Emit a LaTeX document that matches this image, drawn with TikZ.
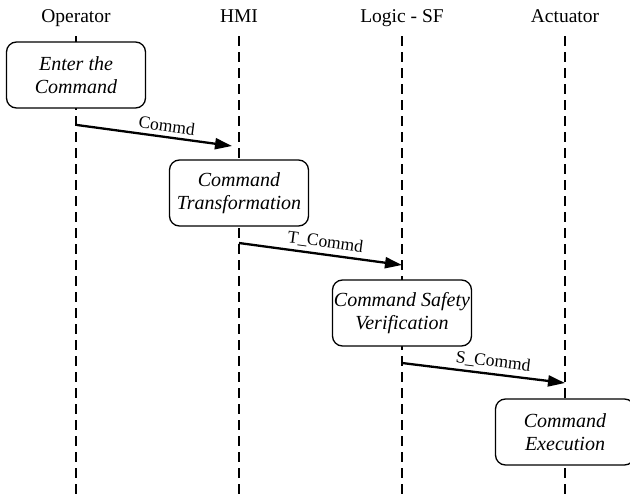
\documentclass[tikz,border=0pt]{standalone}
\usepackage{fontspec}
\setmainfont{Liberation Serif}
\usetikzlibrary{arrows.meta}
\begin{document}
\begin{tikzpicture}[x=1pt,y=-1pt,
  actor/.style={font=\fontsize{19.5}{23}\selectfont, inner sep=0pt, outer sep=0pt, anchor=base},
  lifeline/.style={dash pattern=on 10pt off 6pt, line width=1.3pt},
  task/.style={draw, line width=1.3pt, rounded corners=10pt, fill=white,
    minimum width=139pt, minimum height=66pt, inner sep=0pt, align=center,
    font=\fontsize{20}{23.5}\selectfont\itshape},
  msg/.style={-{Triangle[length=17pt,width=11pt]}, line width=2.3pt},
  msglabel/.style={sloped, above, font=\fontsize{17.5}{20}\selectfont, inner sep=4pt}]
\useasboundingbox (0,0) rectangle (630,498);

% participants
\node[actor] (op)  at (76,22)  {Operator};
\node[actor] (hmi) at (239,22) {HMI};
\node[actor] (lsf) at (402,22) {Logic - SF};
\node[actor] (act) at (565,22) {Actuator};

% lifelines
\coordinate (opTop)  at (76,36);   \coordinate (opEnd)  at (76,498);
\coordinate (hmiTop) at (239,36);  \coordinate (hmiEnd) at (239,498);
\coordinate (lsfTop) at (402,36);  \coordinate (lsfEnd) at (402,498);
\coordinate (actTop) at (565,36);  \coordinate (actEnd) at (565,498);
\draw[lifeline] (opTop) -- (opEnd);
\draw[lifeline] (hmiTop) -- (hmiEnd);
\draw[lifeline] (lsfTop) -- (lsfEnd);
\draw[lifeline] (actTop) -- (actEnd);

% activities
\node[task] (enter) at (76,75)   {Enter the\\Command};
\node[task] (trans) at (239,193) {Command\\Transformation};
\node[task] (verif) at (402,313) {Command Safety\\Verification};
\node[task] (exec)  at (565,432) {Command\\Execution};

% messages
\coordinate (m1s) at (77,125);   \coordinate (m1e) at (232,146);
\coordinate (m2s) at (239,243);  \coordinate (m2e) at (402,265);
\coordinate (m3s) at (402,363);  \coordinate (m3e) at (565,383);
\draw[msg] (m1s) -- node[msglabel, pos=0.57] (l1) {Commd} (m1e);
\draw[msg] (m2s) -- node[msglabel, pos=0.52] (l2) {T\_Commd} (m2e);
\draw[msg] (m3s) -- node[msglabel, pos=0.55] (l3) {S\_Commd} (m3e);
\end{tikzpicture}
\end{document}
